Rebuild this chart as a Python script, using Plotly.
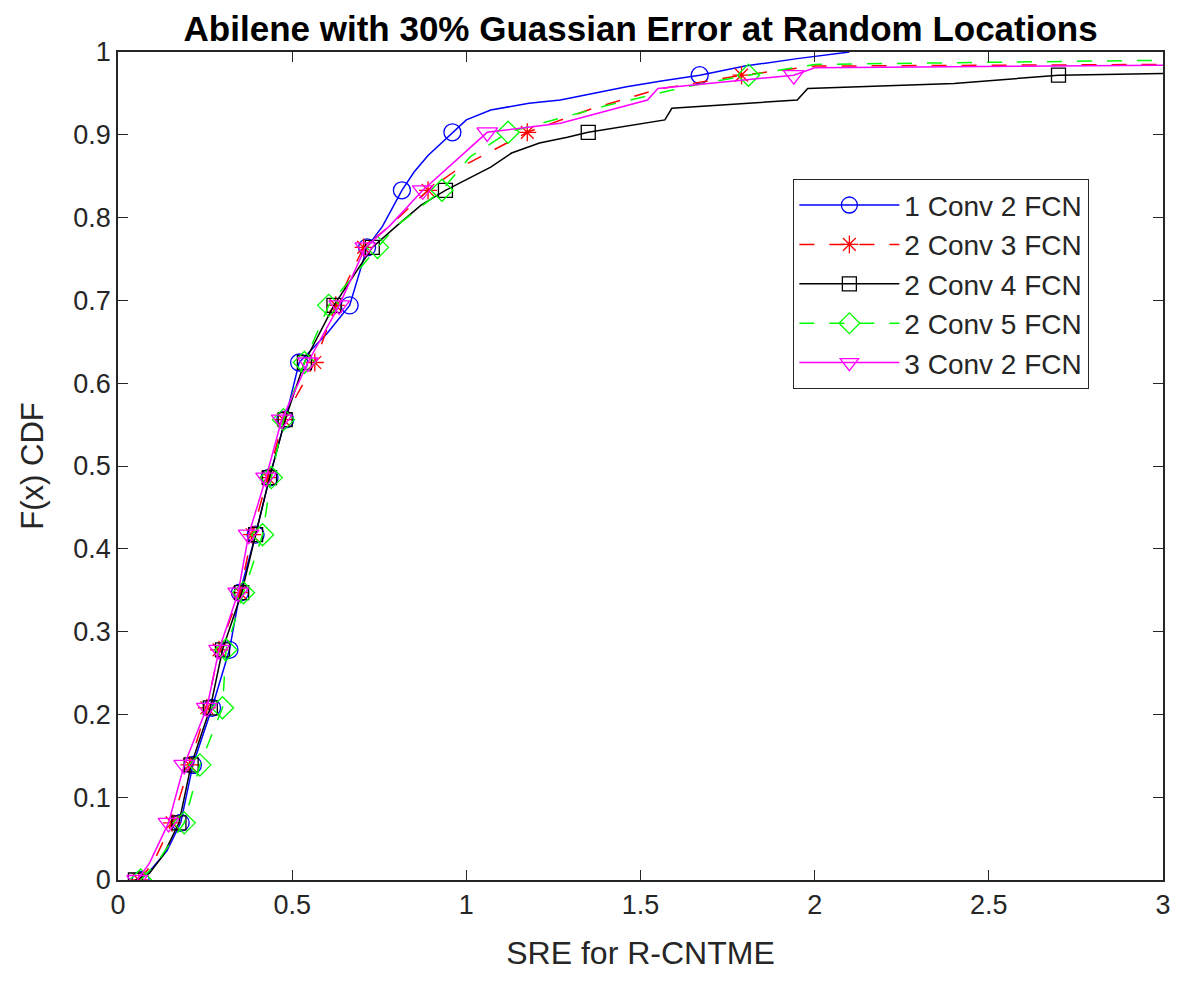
import plotly.graph_objects as go

# CDF levels at which markers are drawn (every 5th sample of 72)
levels = [0.0, 0.069, 0.139, 0.208, 0.278, 0.347, 0.417, 0.486, 0.556,
          0.625, 0.694, 0.764, 0.833, 0.903, 0.972]

names = ["1 Conv 2 FCN", "2 Conv 3 FCN", "2 Conv 4 FCN", "2 Conv 5 FCN", "3 Conv 2 FCN"]

# x values (SRE) at the marker levels
blue_marks = [0.065, 0.18, 0.215, 0.27, 0.32, 0.35, 0.395, 0.435, 0.48, 0.52, 0.665, 0.715, 0.815, 0.96, 1.67]
red_marks = [0.06, 0.155, 0.205, 0.255, 0.29, 0.35, 0.385, 0.43, 0.475, 0.565, 0.625, 0.705, 0.89, 1.175, 1.79]
black_marks = [0.05, 0.175, 0.21, 0.265, 0.30, 0.355, 0.395, 0.435, 0.48, 0.535, 0.62, 0.73, 0.94, 1.35, 2.70]
green_marks = [0.065, 0.19, 0.235, 0.30, 0.31, 0.36, 0.415, 0.44, 0.475, 0.535, 0.605, 0.745, 0.93, 1.12, 1.81]
magenta_marks = [0.055, 0.145, 0.19, 0.255, 0.29, 0.345, 0.375, 0.425, 0.47, 0.545, 0.635, 0.71, 0.875, 1.06, 1.94]

# additional samples between markers (x, y)
blue_extra_x = [0.10, 0.14, 0.60, 0.76, 0.85, 0.89, 1.0, 1.07, 1.18, 1.27, 1.46, 1.56, 1.80, 1.95, 2.10]
blue_extra_y = [0.015, 0.035, 0.66, 0.79, 0.855, 0.875, 0.918, 0.93, 0.938, 0.942, 0.958, 0.965, 0.983, 0.992, 1.0]
red_extra_x = [0.10, 0.78, 0.98, 1.35, 1.55, 2.0, 3.0]
red_extra_y = [0.02, 0.79, 0.86, 0.93, 0.955, 0.983, 0.985]
black_extra_x = [0.09, 0.13, 0.80, 0.87, 1.07, 1.13, 1.21, 1.29, 1.57, 1.59, 1.95, 1.98, 2.40, 3.0]
black_extra_y = [0.008, 0.03, 0.79, 0.815, 0.861, 0.878, 0.89, 0.897, 0.918, 0.932, 0.942, 0.956, 0.962, 0.974]
green_extra_x = [0.11, 0.80, 1.01, 1.40, 1.62, 2.0, 3.0]
green_extra_y = [0.02, 0.79, 0.873, 0.935, 0.957, 0.985, 0.99]
magenta_extra_x = [0.09, 0.78, 1.27, 1.52, 1.55, 2.0, 3.0]
magenta_extra_y = [0.02, 0.79, 0.914, 0.942, 0.956, 0.981, 0.984]

colors = ["#0000FF", "#FF0000", "#000000", "#00FF00", "#FF00FF"]
dashes = ["solid", "longdash", "solid", "longdash", "solid"]
symbols = ["circle-open", "asterisk-open", "square-open", "diamond-open", "triangle-down-open"]
msizes = [17, 15, 14, 17, 18]

marks = [blue_marks, red_marks, black_marks, green_marks, magenta_marks]
extras = [(blue_extra_x, blue_extra_y), (red_extra_x, red_extra_y), (black_extra_x, black_extra_y),
          (green_extra_x, green_extra_y), (magenta_extra_x, magenta_extra_y)]

fig = go.Figure()
for i in range(5):
    pts = sorted(list(zip(marks[i], levels)) + list(zip(extras[i][0], extras[i][1])))
    lx = [p[0] for p in pts]
    ly = [p[1] for p in pts]
    fig.add_trace(go.Scatter(x=lx, y=ly, mode="lines", showlegend=False,
                             line=dict(color=colors[i], width=1.5, dash=dashes[i]),
                             hoverinfo="skip", legendgroup=names[i]))
    fig.add_trace(go.Scatter(x=marks[i], y=levels, mode="markers", showlegend=False,
                             marker=dict(symbol=symbols[i], size=msizes[i], color=colors[i],
                                         line=dict(width=1.3, color=colors[i])),
                             legendgroup=names[i]))
    fig.add_trace(go.Scatter(x=[None], y=[None], mode="lines+markers", name=names[i],
                             line=dict(color=colors[i], width=1.5, dash=dashes[i]),
                             marker=dict(symbol=symbols[i], size=msizes[i], color=colors[i],
                                         line=dict(width=1.3, color=colors[i])),
                             legendgroup=names[i]))

axis_common = dict(showline=True, mirror="ticks", linecolor="#262626", linewidth=1.5,
                   ticks="inside", ticklen=10, tickwidth=1.3, tickcolor="#262626",
                   showgrid=False, zeroline=False,
                   tickfont=dict(family="Liberation Sans, Arial", size=27, color="#262626"))

fig.update_layout(
    width=1182, height=981,
    paper_bgcolor="white", plot_bgcolor="white",
    margin=dict(l=118, r=19, t=52, b=101),
    title=dict(text="<b>Abilene with 30% Guassian Error at Random Locations</b>",
               x=0.542, xanchor="center", y=0.971, yanchor="middle",
               font=dict(family="Liberation Sans, Arial", size=35, color="black")),
    xaxis=dict(range=[0, 3], tickvals=[0, 0.5, 1, 1.5, 2, 2.5, 3],
               ticktext=["0", "0.5", "1", "1.5", "2", "2.5", "3"],
               title=dict(text="SRE for R-CNTME", standoff=22,
                          font=dict(family="Liberation Sans, Arial", size=32, color="#262626")),
               **axis_common),
    yaxis=dict(range=[0, 1], tickvals=[0, 0.1, 0.2, 0.3, 0.4, 0.5, 0.6, 0.7, 0.8, 0.9, 1],
               ticktext=["0", "0.1", "0.2", "0.3", "0.4", "0.5", "0.6", "0.7", "0.8", "0.9", "1"],
               title=dict(text="F(x) CDF", standoff=20,
                          font=dict(family="Liberation Sans, Arial", size=31, color="#262626")),
               **axis_common),
    legend=dict(x=0.646, y=0.8466, xanchor="left", yanchor="top",
                bgcolor="white", bordercolor="#262626", borderwidth=1.3,
                font=dict(family="Liberation Sans, Arial", size=28, color="#262626"),
                itemwidth=100, tracegroupgap=0),
    showlegend=True,
)

fig.write_html("out.html")
